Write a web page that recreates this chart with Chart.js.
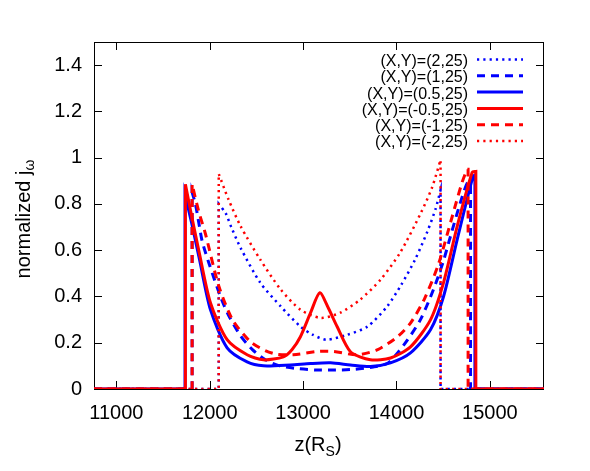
<!DOCTYPE html>
<html>
<head>
<meta charset="utf-8">
<script src="https://cdn.jsdelivr.net/npm/chart.js@4.4.0/dist/chart.umd.min.js"></script>
<style>
  html, body { margin: 0; padding: 0; background: #fff; }
</style>
</head>
<body>
<canvas id="jwChart" width="590" height="471"></canvas>
<script>
const FONT = "'Liberation Sans', Arial, Helvetica, sans-serif";
const X_MIN = 10760, X_MAX = 15580;
const Y_MIN = 0, Y_MAX = 1.5;
const xTicks = [11000, 12000, 13000, 14000, 15000];
const yTicks = [0, 0.2, 0.4, 0.6, 0.8, 1, 1.2, 1.4];

const seriesLabels = ['(X,Y)=(2,25)', '(X,Y)=(1,25)', '(X,Y)=(0.5,25)', '(X,Y)=(-0.5,25)', '(X,Y)=(-1,25)', '(X,Y)=(-2,25)'];

// z (R_S) and normalized j_omega; first/last z are the jump positions
const zP2 = [12096, 12170, 12230, 12330, 12540, 12760, 12970, 13100, 13250, 13470, 13690, 13900, 14050, 14200, 14330, 14420, 14472];
const jP2 = [0.80, 0.76, 0.70, 0.61, 0.46, 0.357, 0.27, 0.235, 0.213, 0.234, 0.27, 0.357, 0.45, 0.56, 0.68, 0.78, 0.86];

const zP1 = [11811, 11846, 11882, 11918, 11986, 12114, 12200, 12329, 12457, 12600, 12750, 12950, 13150, 13350, 13550, 13750, 13900, 14000, 14114, 14257, 14396, 14500, 14578, 14680, 14757, 14793];
const jP1 = [0.85, 0.80, 0.72, 0.64, 0.55, 0.40, 0.32, 0.23, 0.17, 0.125, 0.10, 0.088, 0.082, 0.082, 0.085, 0.095, 0.11, 0.15, 0.21, 0.30, 0.43, 0.55, 0.66, 0.80, 0.89, 0.89];

const zP05 = [11735, 11810, 11890, 12007, 12186, 12400, 12575, 12864, 13079, 13293, 13507, 13721, 13936, 14150, 14364, 14504, 14650, 14820, 14840];
const jP05 = [0.84, 0.71, 0.56, 0.343, 0.178, 0.117, 0.10, 0.104, 0.110, 0.113, 0.104, 0.097, 0.113, 0.156, 0.256, 0.40, 0.646, 0.92, 0.925];

const zM05 = [11739, 11800, 11882, 12007, 12186, 12400, 12575, 12789, 12880, 12971, 13080, 13178, 13270, 13365, 13507, 13721, 13936, 14150, 14364, 14504, 14650, 14811, 14850];
const jM05 = [0.885, 0.76, 0.60, 0.373, 0.213, 0.148, 0.126, 0.139, 0.17, 0.226, 0.33, 0.416, 0.35, 0.269, 0.161, 0.126, 0.134, 0.182, 0.299, 0.46, 0.703, 0.937, 0.94];

const zM1 = [11811, 11880, 11954, 12093, 12243, 12436, 12600, 12722, 12896, 13150, 13325, 13579, 13793, 14008, 14150, 14300, 14450, 14600, 14700, 14757, 14767];
const jM1 = [0.885, 0.77, 0.67, 0.45, 0.30, 0.204, 0.165, 0.15, 0.148, 0.162, 0.162, 0.148, 0.169, 0.225, 0.285, 0.39, 0.54, 0.75, 0.89, 0.95, 0.95];

const zM2 = [12096, 12200, 12330, 12540, 12760, 12970, 13190, 13400, 13610, 13830, 14040, 14260, 14380, 14472];
const jM2 = [0.93, 0.82, 0.704, 0.56, 0.43, 0.343, 0.307, 0.33, 0.386, 0.473, 0.59, 0.76, 0.87, 0.99];

const BLUE = '#0000ff', RED = '#ff0000';
const DOT = [2.2, 4.1], DASH = [8, 6];

// zero outside the jumps; corner points doubled so the spline keeps them sharp
function profile(zs, js) {
  const n = zs.length;
  const pts = [{ x: X_MIN, y: 0 }, { x: zs[0], y: 0 }, { x: zs[0], y: 0 }];
  for (let i = 0; i < n; i++) {
    pts.push({ x: zs[i], y: js[i] });
    if (i === 0 || i === n - 1) pts.push({ x: zs[i], y: js[i] });
  }
  pts.push({ x: zs[n - 1], y: 0 }, { x: zs[n - 1], y: 0 }, { x: X_MAX, y: 0 });
  return pts;
}

function line(label, zs, js, color, dash, width, order) {
  return {
    label, data: profile(zs, js), showLine: true, pointRadius: 0,
    borderColor: color, backgroundColor: color, borderWidth: width,
    borderDash: dash, tension: 0.25, fill: false, order
  };
}

const datasets = [
  line(seriesLabels[0], zP2, jP2, BLUE, DOT, 2.5, 5),
  line(seriesLabels[1], zP1, jP1, BLUE, DASH, 3, 4),
  line(seriesLabels[2], zP05, jP05, BLUE, [], 3, 3),
  line(seriesLabels[3], zM05, jM05, RED, [], 3, 2),
  line(seriesLabels[4], zM1, jM1, RED, DASH, 3, 1),
  line(seriesLabels[5], zM2, jM2, RED, DOT, 2.5, 0)
];

const framePlugin = {
  id: 'frame',
  beforeDatasetsDraw(chart) {
    const { ctx, chartArea: a, scales: { x, y } } = chart;
    ctx.save();
    ctx.strokeStyle = '#000';
    ctx.lineWidth = 1;
    ctx.strokeRect(a.left + 0.5, a.top + 0.5, a.right - a.left - 1, a.bottom - a.top);
    ctx.beginPath();
    x.ticks.forEach(t => {
      const px = Math.round(x.getPixelForValue(t.value)) + 0.5;
      ctx.moveTo(px, a.bottom); ctx.lineTo(px, a.bottom - 8);
      ctx.moveTo(px, a.top); ctx.lineTo(px, a.top + 8);
    });
    y.ticks.forEach(t => {
      const py = Math.round(y.getPixelForValue(t.value)) + 0.5;
      ctx.moveTo(a.left, py); ctx.lineTo(a.left + 8, py);
      ctx.moveTo(a.right, py); ctx.lineTo(a.right - 8, py);
    });
    ctx.stroke();
    ctx.restore();
  },
  afterDraw(chart) {
    const ctx = chart.ctx;
    ctx.save();
    ctx.fillStyle = '#000';

    // legend: text right-aligned, sample line after it
    ctx.font = '16px ' + FONT;
    ctx.textAlign = 'right';
    ctx.textBaseline = 'middle';
    chart.data.datasets.forEach((ds, i) => {
      const ry = 59.5 + 16.3 * i;
      ctx.fillText(ds.label, 468, ry + 2);
      ctx.beginPath();
      ctx.strokeStyle = ds.borderColor;
      ctx.lineWidth = ds.borderWidth;
      ctx.setLineDash(ds.borderDash);
      ctx.moveTo(477, ry); ctx.lineTo(523, ry);
      ctx.stroke();
    });
    ctx.setLineDash([]);

    // x title: z(R_S)
    ctx.textAlign = 'left';
    ctx.textBaseline = 'alphabetic';
    const big = '20px ' + FONT, small = '14px ' + FONT;
    ctx.font = big; const w1 = ctx.measureText('z(R').width, w3 = ctx.measureText(')').width;
    ctx.font = small; const w2 = ctx.measureText('S').width;
    let x0 = 318 - (w1 + w2 + w3) / 2;
    ctx.font = big; ctx.fillText('z(R', x0, 451);
    ctx.font = small; ctx.fillText('S', x0 + w1, 456);
    ctx.font = big; ctx.fillText(')', x0 + w1 + w2, 451);

    // y title: normalized j_omega
    ctx.translate(30, 219);
    ctx.rotate(-Math.PI / 2);
    ctx.font = big; const v1 = ctx.measureText('normalized j').width;
    ctx.font = small; const v2 = ctx.measureText('ω').width;
    const y0 = -(v1 + v2) / 2;
    ctx.font = big; ctx.fillText('normalized j', y0, 0);
    ctx.font = small; ctx.fillText('ω', y0 + v1, 4);
    ctx.restore();
  }
};

new Chart(document.getElementById('jwChart'), {
  type: 'scatter',
  data: { datasets },
  options: {
    responsive: false,
    animation: false,
    devicePixelRatio: 1,
    layout: { padding: { top: 42, right: 46, left: 0, bottom: 0 } },
    plugins: { legend: { display: false }, tooltip: { enabled: false } },
    scales: {
      x: {
        type: 'linear', min: X_MIN, max: X_MAX,
        afterFit: s => { s.height = 82; },
        afterBuildTicks: s => { s.ticks = xTicks.map(v => ({ value: v })); },
        grid: { display: false, drawTicks: false },
        border: { display: false },
        ticks: {
          padding: 12, color: '#000', maxRotation: 0, autoSkip: false,
          font: { family: FONT, size: 20 },
          callback: v => String(v)
        }
      },
      y: {
        type: 'linear', min: Y_MIN, max: Y_MAX,
        afterFit: s => { s.width = 94; },
        afterBuildTicks: s => { s.ticks = yTicks.map(v => ({ value: v })); },
        grid: { display: false, drawTicks: false },
        border: { display: false },
        ticks: {
          padding: 12, color: '#000', autoSkip: false,
          font: { family: FONT, size: 20 },
          callback: v => String(v)
        }
      }
    }
  },
  plugins: [framePlugin]
});
</script>
</body>
</html>
